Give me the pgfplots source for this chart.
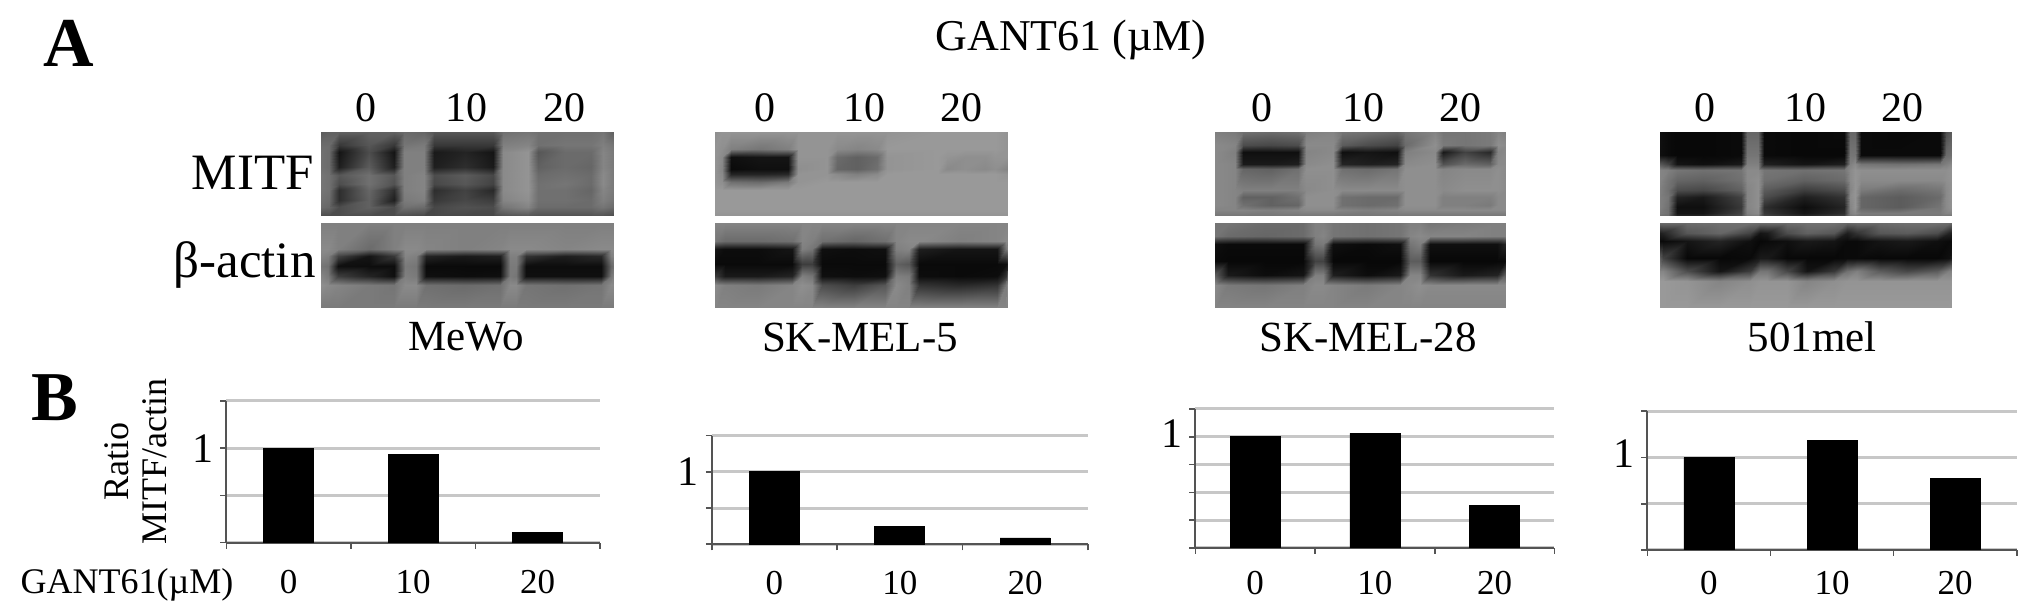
\documentclass[border=0pt]{standalone}
\usepackage{pgfplots}
\pgfplotsset{compat=1.18}
\usepackage{fontspec}
\setmainfont{Liberation Serif}
\newcommand{\fs}[1]{\fontsize{#1}{#1}\selectfont}
\definecolor{gridc}{gray}{0.78}
\definecolor{axisc}{gray}{0.33}

% positions of the blot grid, looked up by point number (FPU cannot index arrays)
\newcommand{\setlist}[2]{\foreach \v [count=\i from 0] in {#2} {\expandafter\xdef\csname #1\i\endcsname{\v}}}
\def\colx{\csname bx\the\numexpr\coordindex-17*((\coordindex-8)/17)\relax\endcsname}
\def\rowy{\csname by\the\numexpr(\coordindex-8)/17\relax\endcsname}

% blot: grey levels (0 black, 100 white) on a grid of 17 columns, read top to bottom
% #1 left px, #2 bottom px, #3 height, #4 #5 first and last row, #6 columns, #7 rows, #8 values
\newcommand{\blot}[8]{%
\setlist{bx}{#6}\setlist{by}{#7}%
\begin{axis}[at={({#1*0.5pt},{#2*0.5pt})},anchor=south west,scale only axis,width=146pt,height=#3,
  hide axis,view={0}{90},enlargelimits=false,xmin=20,xmax=895,ymin=#4,ymax=#5,y dir=reverse,
  colormap={blot}{gray(0cm)=(0); gray(1cm)=(1)},point meta min=0,point meta max=100]
\addplot3[surf,shader=interp,mesh/cols=17,mesh/ordering=x varies,point meta=\thisrow{v}]
  table[row sep=crcr,x expr={\colx},y expr={\rowy},z expr=0] {#8};
\end{axis}}

\pgfplotsset{ratio/.style={scale only axis,ybar,bar width=25pt,
  xmin=-0.5,xmax=2.5,ymin=0,
  axis x line=bottom,axis y line=left,axis line style={-,draw=axisc,line width=1pt},
  tick style={draw=axisc,line width=0.8pt},major tick length=3pt,tick align=outside,
  xtick={-0.5,0.5,1.5,2.5},xticklabels={},
  extra x ticks={0,1,2},extra x tick labels={0,10,20},
  extra x tick style={major tick length=0pt,xticklabel style={yshift=-10pt}},
  ymajorgrids,grid style={draw=gridc,line width=1.5pt},
  ticklabel style={font=\fs{17.5}},
  y tick label style={font=\fs{21}}}}

\begin{document}
\begin{tikzpicture}[x=0.5pt,y=0.5pt]
\path[use as bounding box] (0,0) rectangle (2031,614);

\node[font=\bfseries\fs{35}] at (69,571) {A};
\node[font=\bfseries\fs{35}] at (55,216) {B};
\node[font=\fs{22}] at (1071,574) {GANT61 (µM)};

% MeWo
\blot{321}{398}{42pt}{20}{272}{20,45,75,165,240,270,330,360,450,535,565,640,670,750,830,865,895}{20,60,80,125,150,175,195,225,245,272}{v\\
36\\38\\38\\38\\38\\42\\40\\34\\34\\34\\44\\46\\44\\44\\44\\46\\38\\
42\\42\\22\\34\\22\\46\\48\\22\\22\\22\\50\\52\\44\\46\\46\\50\\46\\
44\\42\\8\\30\\8\\50\\50\\10\\14\\8\\54\\58\\34\\42\\42\\52\\48\\
44\\42\\12\\36\\12\\50\\50\\12\\18\\10\\54\\58\\38\\42\\40\\52\\48\\
46\\44\\34\\44\\34\\50\\52\\30\\36\\28\\54\\58\\42\\44\\42\\54\\48\\
46\\44\\30\\44\\32\\50\\52\\28\\34\\26\\54\\58\\44\\46\\42\\54\\48\\
46\\44\\18\\40\\18\\50\\52\\18\\26\\16\\54\\58\\44\\44\\40\\52\\48\\
44\\42\\18\\38\\12\\48\\50\\22\\28\\24\\52\\56\\44\\44\\42\\50\\46\\
42\\40\\30\\38\\30\\44\\42\\28\\32\\30\\46\\52\\42\\42\\42\\46\\42\\
30\\30\\30\\30\\30\\30\\28\\28\\28\\28\\32\\34\\32\\32\\32\\32\\30\\}
\blot{321}{306}{42.5pt}{296}{550}{20,40,70,165,240,272,305,335,450,555,585,605,635,750,860,888,895}{296,375,395,425,455,480,550}{v\\
50\\50\\50\\50\\50\\50\\50\\50\\50\\50\\50\\50\\50\\50\\50\\50\\50\\
54\\54\\50\\42\\50\\54\\54\\52\\50\\52\\54\\54\\54\\52\\54\\54\\54\\
52\\50\\26\\8\\22\\52\\50\\14\\10\\12\\50\\50\\20\\12\\16\\50\\52\\
46\\44\\6\\5\\5\\48\\46\\4\\4\\4\\48\\48\\5\\5\\5\\40\\44\\
52\\48\\24\\14\\6\\50\\48\\6\\5\\6\\48\\46\\6\\6\\6\\46\\50\\
56\\54\\52\\48\\46\\54\\54\\44\\42\\44\\54\\54\\46\\44\\46\\54\\54\\
48\\48\\48\\48\\48\\48\\48\\48\\48\\48\\48\\48\\48\\48\\48\\48\\48\\}

% SK-MEL-5
\blot{715}{398}{42pt}{20}{272}{20,40,68,155,240,268,357,385,445,505,535,687,715,770,830,860,895}{20,70,95,130,145,170,195,225,250,272}{v\\
56\\58\\58\\58\\58\\58\\58\\58\\58\\58\\58\\60\\60\\60\\60\\60\\58\\
58\\56\\50\\46\\50\\58\\58\\54\\52\\54\\60\\60\\60\\60\\60\\60\\58\\
58\\54\\6\\8\\8\\58\\58\\42\\38\\42\\58\\60\\58\\56\\56\\58\\58\\
58\\52\\4\\6\\6\\56\\58\\40\\38\\44\\58\\60\\54\\56\\54\\56\\52\\
58\\54\\14\\14\\16\\58\\58\\54\\50\\54\\60\\60\\60\\60\\60\\60\\58\\
58\\56\\44\\42\\48\\58\\60\\60\\60\\60\\60\\60\\60\\60\\60\\60\\60\\
60\\60\\60\\60\\60\\60\\60\\60\\60\\60\\60\\60\\60\\60\\60\\60\\60\\
60\\60\\60\\60\\60\\60\\60\\60\\60\\60\\60\\60\\60\\60\\60\\60\\60\\
60\\60\\60\\60\\60\\60\\60\\60\\60\\60\\60\\60\\60\\60\\60\\60\\60\\
58\\58\\58\\58\\58\\58\\58\\58\\58\\58\\58\\58\\58\\58\\58\\58\\58\\}
\blot{715}{306}{42.5pt}{296}{550}{20,22,50,150,250,282,312,340,435,530,562,602,630,750,865,892,895}{296,350,375,420,455,480,550}{v\\
52\\52\\52\\52\\52\\52\\52\\52\\52\\52\\52\\52\\52\\52\\52\\52\\52\\
50\\46\\42\\42\\44\\52\\50\\44\\40\\44\\52\\54\\54\\50\\52\\54\\54\\
10\\8\\5\\5\\8\\50\\46\\6\\5\\6\\50\\52\\12\\8\\8\\46\\50\\
4\\4\\4\\4\\4\\24\\24\\4\\4\\4\\38\\34\\4\\4\\4\\6\\10\\
22\\22\\10\\10\\14\\50\\46\\6\\5\\6\\50\\48\\5\\4\\5\\20\\34\\
54\\54\\50\\48\\52\\56\\54\\30\\24\\34\\54\\50\\20\\16\\20\\48\\54\\
52\\52\\52\\52\\52\\52\\52\\52\\52\\52\\52\\52\\52\\52\\52\\52\\52\\}

% SK-MEL-28
\blot{1214.7}{398}{42pt}{20}{272}{20,80,105,190,270,295,375,400,480,565,590,680,705,770,845,870,895}{20,60,80,115,130,195,215,240,255,272}{v\\
50\\48\\44\\42\\44\\50\\52\\46\\44\\40\\46\\52\\46\\46\\48\\52\\50\\
54\\52\\30\\28\\30\\54\\54\\36\\30\\26\\42\\56\\48\\46\\48\\56\\54\\
54\\50\\6\\6\\6\\52\\54\\6\\8\\6\\50\\54\\10\\26\\16\\52\\54\\
54\\52\\10\\10\\12\\54\\56\\14\\12\\14\\54\\56\\32\\42\\38\\54\\54\\
54\\52\\40\\38\\44\\56\\56\\44\\42\\46\\56\\56\\52\\54\\54\\56\\54\\
54\\52\\50\\50\\50\\54\\56\\54\\54\\54\\56\\56\\54\\56\\56\\56\\54\\
54\\52\\38\\38\\44\\56\\56\\44\\42\\42\\56\\56\\50\\50\\50\\54\\54\\
54\\52\\44\\38\\40\\56\\56\\44\\42\\44\\56\\56\\50\\50\\48\\54\\54\\
52\\52\\52\\50\\52\\54\\54\\52\\50\\52\\54\\54\\54\\54\\54\\54\\54\\
46\\46\\46\\46\\46\\46\\46\\46\\46\\46\\46\\46\\46\\46\\46\\46\\46\\}
\blot{1214.7}{306}{42.5pt}{296}{550}{20,22,60,170,285,320,345,375,475,575,605,635,665,765,865,890,895}{296,335,360,410,450,480,550}{v\\
48\\46\\46\\42\\42\\50\\50\\46\\44\\46\\50\\50\\46\\48\\50\\50\\50\\
50\\46\\42\\40\\42\\50\\52\\46\\44\\46\\52\\54\\52\\52\\50\\50\\50\\
8\\6\\4\\4\\4\\46\\48\\6\\4\\6\\46\\50\\6\\6\\6\\14\\20\\
4\\4\\3\\3\\3\\26\\26\\3\\3\\3\\36\\36\\3\\3\\3\\4\\6\\
44\\36\\10\\5\\8\\50\\50\\12\\5\\10\\52\\52\\20\\10\\14\\36\\44\\
54\\54\\48\\46\\50\\54\\54\\52\\48\\52\\54\\56\\54\\54\\54\\54\\54\\
52\\52\\52\\52\\52\\52\\52\\52\\52\\52\\52\\52\\52\\52\\52\\52\\52\\}

% 501mel
\blot{1660}{398}{42pt}{20}{272}{20,45,70,150,262,280,315,332,450,572,590,605,622,740,860,878,895}{20,90,115,135,165,195,215,245,262,272}{v\\
6\\4\\3\\3\\4\\40\\40\\4\\3\\4\\40\\40\\4\\3\\4\\30\\36\\
6\\4\\3\\3\\4\\46\\46\\4\\3\\3\\46\\46\\4\\4\\4\\42\\44\\
34\\26\\8\\6\\10\\50\\50\\12\\8\\12\\50\\54\\46\\44\\46\\50\\54\\
52\\50\\46\\44\\46\\54\\54\\46\\44\\46\\54\\58\\56\\56\\56\\56\\58\\
52\\46\\40\\38\\44\\54\\56\\44\\38\\42\\54\\58\\54\\54\\54\\56\\58\\
50\\44\\30\\28\\38\\52\\56\\36\\24\\30\\52\\58\\48\\42\\46\\54\\58\\
50\\46\\14\\10\\26\\52\\56\\30\\12\\20\\54\\58\\40\\36\\42\\54\\58\\
50\\44\\6\\6\\22\\52\\56\\18\\5\\14\\52\\58\\40\\36\\46\\54\\58\\
48\\44\\8\\8\\26\\50\\54\\22\\8\\18\\50\\54\\48\\48\\48\\52\\52\\
44\\42\\16\\16\\30\\46\\48\\28\\16\\26\\46\\48\\46\\46\\46\\46\\46\\}
\blot{1660}{306}{42.5pt}{296}{550}{20,30,100,200,290,320,340,400,460,540,580,610,680,760,850,885,895}{296,325,350,400,440,470,550}{v\\
42\\42\\42\\44\\44\\42\\42\\42\\44\\44\\40\\42\\42\\44\\44\\42\\40\\
12\\14\\34\\40\\26\\8\\10\\30\\38\\34\\12\\20\\34\\36\\30\\14\\12\\
4\\4\\8\\14\\6\\3\\4\\6\\10\\8\\4\\4\\8\\10\\6\\4\\4\\
36\\26\\3\\3\\4\\10\\10\\3\\3\\3\\4\\4\\3\\3\\3\\6\\12\\
52\\52\\30\\8\\24\\46\\46\\28\\8\\22\\44\\50\\36\\28\\36\\50\\52\\
60\\60\\58\\52\\56\\58\\58\\58\\52\\56\\58\\58\\58\\58\\58\\58\\60\\
60\\60\\60\\60\\60\\60\\60\\60\\60\\60\\60\\60\\60\\60\\60\\60\\60\\}

% lane numbers
\foreach \x/\t in {366/0,466.5/10,564/20,764.5/0,864/10,961.6/20,1261.8/0,1363/10,1460/20,1704.7/0,1805/10,1902/20}
  \node[font=\fs{21}] at (\x,506) {\t};
\node[font=\fs{25.5},anchor=east,inner sep=0pt] at (314,441) {MITF};
\node[font=\fs{25.5},anchor=east,inner sep=0pt] at (316,349) {β-actin};
\foreach \x/\t in {466/MeWo,860/SK-MEL-5,1368/SK-MEL-28,1812/501mel}
  \node[font=\fs{21.5}] at (\x,277) {\t};

% panel B
\begin{axis}[ratio,at={({226.4*0.5pt},{71.3*0.5pt})},anchor=south west,width=186.8pt,height=70.85pt,
  ymax=1.5,ytick={0,0.5,1,1.5},yticklabels={,,1,},
  ylabel={Ratio\\MITF/actin},
  ylabel style={at={(axis description cs:-0.242,0.57)},anchor=center,align=center,font=\fontsize{18}{19}\selectfont}]
\addplot[fill=black,draw=black] coordinates {(0,1) (1,0.93) (2,0.11)};
\end{axis}
\begin{axis}[ratio,at={({711.8*0.5pt},{69.7*0.5pt})},anchor=south west,width=187.95pt,height=54.3pt,
  ymax=1.5,ytick={0,0.5,1,1.5},yticklabels={,,1,}]
\addplot[fill=black,draw=black] coordinates {(0,1) (1,0.247) (2,0.087)};
\end{axis}
\begin{axis}[ratio,at={({1195.4*0.5pt},{66*0.5pt})},anchor=south west,width=179.5pt,height=69.5pt,
  ymax=1.25,ytick={0,0.25,0.5,0.75,1,1.25},yticklabels={,,,,1,},
  y tick label style={yshift=1.5pt},
  extra x tick style={xticklabel style={yshift=2pt}}]
\addplot[fill=black,draw=black] coordinates {(0,1) (1,1.03) (2,0.38)};
\end{axis}
\begin{axis}[ratio,at={({1647.4*0.5pt},{64*0.5pt})},anchor=south west,width=184.7pt,height=69.35pt,
  ymax=1.5,ytick={0,0.5,1,1.5},yticklabels={,,1,},
  y tick label style={yshift=2pt},
  extra x tick style={xticklabel style={yshift=3pt}}]
\addplot[fill=black,draw=black] coordinates {(0,1) (1,1.18) (2,0.777)};
\end{axis}
\node[font=\fs{18}] at (127,29) {GANT61(µM)};
\end{tikzpicture}
\end{document}
